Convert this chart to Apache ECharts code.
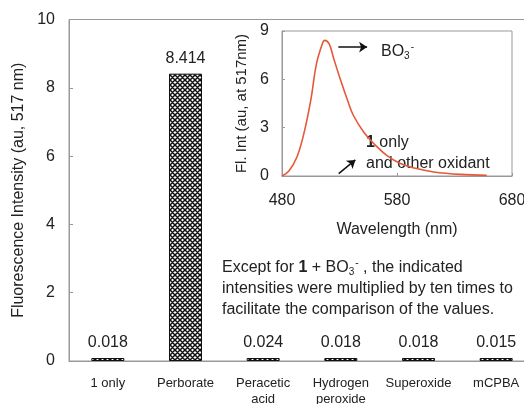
<!DOCTYPE html>
<html><head><meta charset="utf-8">
<script src="https://cdn.jsdelivr.net/npm/echarts@6/dist/echarts.min.js"></script>
<style>html,body{margin:0;padding:0;background:#fff}#c{width:524px;height:404px}</style>
</head><body><div id="c"></div>
<script>
var categories = ['1 only', 'Perborate', 'Peracetic\nacid', 'Hydrogen\nperoxide', 'Superoxide', 'mCPBA'];
var intensities = [0.018, 8.414, 0.024, 0.018, 0.018, 0.015];
var mainTicks = [0, 2, 4, 6, 8, 10];
var wavelengths = [480, 486, 493, 499, 505, 510, 515, 517, 521, 525, 531, 537, 542, 551, 560, 571, 583, 597, 612, 635, 658];
var spectrum = [0, 0.31, 1.18, 2.63, 4.7, 6.97, 8.2, 8.42, 8.2, 7.28, 5.94, 4.7, 3.77, 2.73, 2.0, 1.28, 0.77, 0.46, 0.25, 0.1, 0.04];

var pc = document.createElement('canvas');
pc.width = 5; pc.height = 5;
var g = pc.getContext('2d');
g.fillStyle = '#fff'; g.fillRect(0, 0, 5, 5);
g.strokeStyle = '#111'; g.lineWidth = 1.5;
g.beginPath();
g.moveTo(-1, -1); g.lineTo(6, 6);
g.moveTo(6, -1); g.lineTo(-1, 6);
g.moveTo(-1, 4); g.lineTo(1, 6);
g.moveTo(4, -1); g.lineTo(6, 1);
g.moveTo(-1, 1); g.lineTo(1, -1);
g.moveTo(4, 6); g.lineTo(6, 4);
g.stroke();

var specData = wavelengths.map(function (w, i) { return [w, spectrum[i]]; });
var font = 'Liberation Sans, Arial, sans-serif';
var axisGray = '#999';
var txt = '#222';
var richBase = {
  b: { fontWeight: 'bold', fontSize: 16, fontFamily: font, color: txt },
  s: { fontSize: 10, fontFamily: font, color: txt, padding: [9, 0, 0, 0] },
  p: { fontSize: 10, fontFamily: font, color: txt, padding: [0, 0, 9, 1] },
  a: { fontSize: 16, fontFamily: font, color: txt }
};
function T(x, y, text) {
  return { type: 'text', x: x, y: y, style: { text: text, font: '16px ' + font, fill: txt, verticalAlign: 'middle', rich: richBase } };
}
var chart = echarts.init(document.getElementById('c'));
chart.setOption({
  backgroundColor: '#fff',
  textStyle: { fontFamily: font },
  animation: false,
  grid: [
    { left: 69, top: 19.5, width: 466, height: 341.5, show: true, borderColor: axisGray, borderWidth: 1, containLabel: false, outerBoundsMode: 'none' },
    { left: 282, top: 31, width: 230, height: 145, show: true, borderColor: axisGray, borderWidth: 1, containLabel: false, outerBoundsMode: 'none' }
  ],
  xAxis: [
    { type: 'category', gridIndex: 0, data: categories,
      axisLine: { lineStyle: { color: axisGray } },
      axisTick: { inside: true, length: 4, lineStyle: { color: axisGray } },
      axisLabel: { fontSize: 13, color: txt, margin: 14, lineHeight: 16, interval: 0 } },
    { type: 'value', gridIndex: 1, min: 480, max: 680, interval: 100,
      name: 'Wavelength (nm)', nameLocation: 'middle', nameGap: 46,
      nameTextStyle: { fontSize: 16, color: txt },
      splitLine: { show: false },
      axisLine: { lineStyle: { color: axisGray } },
      axisTick: { inside: true, length: 3, lineStyle: { color: axisGray } },
      axisLabel: { fontSize: 16, color: txt, margin: 17 } },
  ],
  yAxis: [
    { type: 'value', gridIndex: 0, min: 0, max: 10, interval: 2,
      name: 'Fluorescence Intensity (au, 517 nm)', nameLocation: 'middle', nameGap: 36,
      nameTextStyle: { fontSize: 16, color: txt },
      splitLine: { show: false },
      axisLine: { show: true, lineStyle: { color: axisGray } },
      axisTick: { show: true, inside: true, length: 4, lineStyle: { color: axisGray } },
      axisLabel: { fontSize: 16, color: txt, margin: 14 } },
    { type: 'value', gridIndex: 1, min: 0, max: 9, interval: 3,
      name: 'Fl. Int (au, at 517nm)', nameLocation: 'middle', nameGap: 33,
      nameTextStyle: { fontSize: 15, color: txt },
      splitLine: { show: false },
      axisLine: { show: true, lineStyle: { color: axisGray } },
      axisTick: { show: true, inside: true, length: 3, lineStyle: { color: axisGray } },
      axisLabel: { fontSize: 16, color: txt, margin: 13 } }
  ],
  series: [
    { type: 'bar', xAxisIndex: 0, yAxisIndex: 0, data: intensities,
      barWidth: 33, barMinHeight: 3,
      itemStyle: { color: { image: pc, repeat: 'repeat' }, borderColor: '#111', borderWidth: 1 },
      label: { show: true, position: 'top', distance: 7, fontSize: 16, color: txt,
        formatter: function (p) { return p.value.toFixed(3); } } },
    { type: 'line', xAxisIndex: 1, yAxisIndex: 1, data: specData, smooth: 0.4,
      showSymbol: false, lineStyle: { color: '#e5583a', width: 1.6 },
      markLine: { silent: true, symbol: ['none', 'arrow'], symbolSize: 8,
        lineStyle: { color: '#111', width: 1.5, type: 'solid' }, label: { show: false },
        data: [
          [{ coord: [529, 8.0] }, { coord: [554, 8.0] }],
          [{ coord: [529.3, 0.15] }, { coord: [543.8, 1.0] }]
        ] } }
  ],
  graphic: [
    T(381, 52, '{a|BO}{s|3}{p|-}'),
    T(366, 143, '{b|1}{a| only}'),
    T(366, 164, 'and other oxidant'),
    T(222, 268, '{a|Except for }{b|1}{a| + BO}{s|3}{p|-}{a| , the indicated}'),
    T(222, 289, 'intensities were multiplied by ten times to'),
    T(222, 310, 'facilitate the comparison of the values.')
  ]
});
</script></body></html>
